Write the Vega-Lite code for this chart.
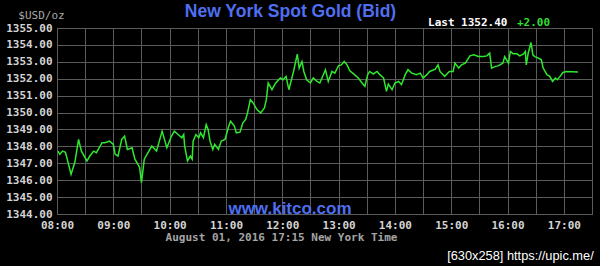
{
  "$schema": "https://vega.github.io/schema/vega-lite/v6.json",
  "width": 535,
  "height": 186,
  "autosize": "none",
  "padding": {"left": 57, "top": 28, "right": 8, "bottom": 52},
  "background": "#000000",
  "config": {
    "view": {"stroke": "#7a7a7a", "strokeWidth": 1, "fill": "#000000"},
    "axis": {
      "gridColor": "#5a5a5a",
      "ticks": false,
      "domain": false,
      "labelFont": "DejaVu Sans Mono",
      "labelFontWeight": "bold",
      "labelFontSize": 11,
      "labelColor": "#d4d4d4",
      "labelPadding": 5,
      "titleFont": "DejaVu Sans Mono",
      "titleFontSize": 11
    }
  },
  "title": {
    "text": "New York Spot Gold (Bid)",
    "anchor": "middle",
    "dx": -34,
    "dy": 16,
    "offset": 5,
    "font": "Liberation Sans",
    "fontWeight": "bold",
    "fontSize": 17.5,
    "color": "#4f6ff0"
  },
  "layer": [
    {
      "data": {
        "values": [
          {"hour": 8.017, "price": 1347.72},
          {"hour": 8.05, "price": 1347.53},
          {"hour": 8.1, "price": 1347.72},
          {"hour": 8.15, "price": 1347.65},
          {"hour": 8.25, "price": 1346.35},
          {"hour": 8.317, "price": 1347.06},
          {"hour": 8.383, "price": 1348.41},
          {"hour": 8.433, "price": 1347.72},
          {"hour": 8.533, "price": 1347.14},
          {"hour": 8.583, "price": 1347.43},
          {"hour": 8.65, "price": 1347.72},
          {"hour": 8.7, "price": 1347.63},
          {"hour": 8.8, "price": 1348.22},
          {"hour": 8.85, "price": 1348.22},
          {"hour": 8.933, "price": 1348.31},
          {"hour": 9.0, "price": 1348.12},
          {"hour": 9.033, "price": 1347.53},
          {"hour": 9.083, "price": 1347.43},
          {"hour": 9.15, "price": 1348.41},
          {"hour": 9.2, "price": 1348.61},
          {"hour": 9.25, "price": 1347.82},
          {"hour": 9.333, "price": 1347.92},
          {"hour": 9.383, "price": 1347.24},
          {"hour": 9.467, "price": 1346.75},
          {"hour": 9.5, "price": 1345.86},
          {"hour": 9.55, "price": 1347.24},
          {"hour": 9.617, "price": 1347.63},
          {"hour": 9.683, "price": 1348.02},
          {"hour": 9.767, "price": 1347.72},
          {"hour": 9.867, "price": 1348.90},
          {"hour": 9.95, "price": 1347.92},
          {"hour": 10.033, "price": 1348.61},
          {"hour": 10.083, "price": 1348.90},
          {"hour": 10.15, "price": 1348.70},
          {"hour": 10.217, "price": 1348.51},
          {"hour": 10.25, "price": 1348.70},
          {"hour": 10.267, "price": 1348.02},
          {"hour": 10.317, "price": 1347.14},
          {"hour": 10.367, "price": 1347.43},
          {"hour": 10.4, "price": 1347.24},
          {"hour": 10.417, "price": 1348.31},
          {"hour": 10.467, "price": 1348.70},
          {"hour": 10.517, "price": 1348.51},
          {"hour": 10.55, "price": 1348.80},
          {"hour": 10.6, "price": 1348.51},
          {"hour": 10.65, "price": 1349.29},
          {"hour": 10.683, "price": 1349.00},
          {"hour": 10.717, "price": 1348.31},
          {"hour": 10.767, "price": 1347.82},
          {"hour": 10.8, "price": 1348.12},
          {"hour": 10.867, "price": 1347.82},
          {"hour": 10.917, "price": 1348.31},
          {"hour": 10.983, "price": 1348.41},
          {"hour": 11.05, "price": 1349.20},
          {"hour": 11.083, "price": 1349.49},
          {"hour": 11.15, "price": 1349.20},
          {"hour": 11.183, "price": 1348.80},
          {"hour": 11.25, "price": 1348.84},
          {"hour": 11.3, "price": 1349.39},
          {"hour": 11.35, "price": 1349.59},
          {"hour": 11.383, "price": 1349.98},
          {"hour": 11.433, "price": 1350.76},
          {"hour": 11.483, "price": 1350.57},
          {"hour": 11.55, "price": 1350.18},
          {"hour": 11.617, "price": 1349.98},
          {"hour": 11.683, "price": 1350.27},
          {"hour": 11.717, "price": 1350.76},
          {"hour": 11.75, "price": 1351.75},
          {"hour": 11.817, "price": 1351.35},
          {"hour": 11.883, "price": 1351.75},
          {"hour": 11.967, "price": 1352.04},
          {"hour": 12.017, "price": 1351.94},
          {"hour": 12.067, "price": 1352.14},
          {"hour": 12.117, "price": 1351.35},
          {"hour": 12.2, "price": 1352.43},
          {"hour": 12.267, "price": 1353.45},
          {"hour": 12.3, "price": 1352.63},
          {"hour": 12.35, "price": 1353.02},
          {"hour": 12.383, "price": 1352.43},
          {"hour": 12.433, "price": 1351.94},
          {"hour": 12.5, "price": 1351.75},
          {"hour": 12.55, "price": 1352.04},
          {"hour": 12.617, "price": 1351.84},
          {"hour": 12.667, "price": 1351.75},
          {"hour": 12.767, "price": 1352.53},
          {"hour": 12.817, "price": 1351.84},
          {"hour": 12.883, "price": 1352.43},
          {"hour": 12.933, "price": 1352.33},
          {"hour": 13.0, "price": 1352.78},
          {"hour": 13.05, "price": 1352.82},
          {"hour": 13.1, "price": 1353.02},
          {"hour": 13.15, "price": 1352.82},
          {"hour": 13.2, "price": 1352.47},
          {"hour": 13.283, "price": 1352.24},
          {"hour": 13.35, "price": 1352.04},
          {"hour": 13.417, "price": 1351.75},
          {"hour": 13.467, "price": 1351.55},
          {"hour": 13.517, "price": 1352.24},
          {"hour": 13.55, "price": 1352.43},
          {"hour": 13.617, "price": 1352.28},
          {"hour": 13.683, "price": 1352.43},
          {"hour": 13.733, "price": 1352.24},
          {"hour": 13.8, "price": 1352.04},
          {"hour": 13.85, "price": 1351.25},
          {"hour": 13.883, "price": 1351.69},
          {"hour": 13.95, "price": 1351.35},
          {"hour": 14.0, "price": 1351.75},
          {"hour": 14.067, "price": 1351.84},
          {"hour": 14.117, "price": 1351.65},
          {"hour": 14.183, "price": 1352.24},
          {"hour": 14.233, "price": 1352.53},
          {"hour": 14.3, "price": 1352.33},
          {"hour": 14.383, "price": 1352.24},
          {"hour": 14.45, "price": 1352.33},
          {"hour": 14.5, "price": 1352.04},
          {"hour": 14.567, "price": 1352.24},
          {"hour": 14.617, "price": 1352.43},
          {"hour": 14.717, "price": 1352.57},
          {"hour": 14.767, "price": 1352.82},
          {"hour": 14.8, "price": 1352.43},
          {"hour": 14.883, "price": 1352.14},
          {"hour": 14.967, "price": 1352.43},
          {"hour": 15.033, "price": 1352.43},
          {"hour": 15.067, "price": 1352.92},
          {"hour": 15.133, "price": 1352.63},
          {"hour": 15.183, "price": 1352.82},
          {"hour": 15.25, "price": 1352.92},
          {"hour": 15.333, "price": 1353.35},
          {"hour": 15.4, "price": 1353.41},
          {"hour": 15.483, "price": 1353.31},
          {"hour": 15.567, "price": 1353.31},
          {"hour": 15.633, "price": 1353.35},
          {"hour": 15.683, "price": 1353.51},
          {"hour": 15.717, "price": 1352.63},
          {"hour": 15.783, "price": 1352.73},
          {"hour": 15.833, "price": 1352.76},
          {"hour": 15.917, "price": 1352.92},
          {"hour": 15.95, "price": 1353.31},
          {"hour": 16.017, "price": 1352.92},
          {"hour": 16.05, "price": 1353.61},
          {"hour": 16.1, "price": 1353.47},
          {"hour": 16.167, "price": 1353.47},
          {"hour": 16.217, "price": 1353.35},
          {"hour": 16.283, "price": 1353.47},
          {"hour": 16.317, "price": 1353.61},
          {"hour": 16.333, "price": 1352.82},
          {"hour": 16.367, "price": 1353.51},
          {"hour": 16.417, "price": 1354.14},
          {"hour": 16.45, "price": 1353.41},
          {"hour": 16.483, "price": 1353.31},
          {"hour": 16.55, "price": 1353.22},
          {"hour": 16.6, "price": 1353.12},
          {"hour": 16.633, "price": 1352.63},
          {"hour": 16.7, "price": 1352.24},
          {"hour": 16.75, "price": 1352.14},
          {"hour": 16.8, "price": 1351.84},
          {"hour": 16.85, "price": 1352.04},
          {"hour": 16.883, "price": 1351.94},
          {"hour": 16.933, "price": 1352.14},
          {"hour": 16.983, "price": 1352.37},
          {"hour": 17.05, "price": 1352.43},
          {"hour": 17.25, "price": 1352.40}
        ]
      },
      "mark": {"type": "line", "color": "#2ee82e", "strokeWidth": 1.5, "clip": true},
      "encoding": {
        "x": {
          "field": "hour",
          "type": "quantitative",
          "scale": {"domain": [8, 17.5], "nice": false, "zero": false},
          "axis": {
            "values": [8, 8.5, 9, 9.5, 10, 10.5, 11, 11.5, 12, 12.5, 13, 13.5, 14, 14.5, 15, 15.5, 16, 16.5, 17, 17.5],
            "labelExpr": "datum.value % 1 == 0 ? (datum.value < 10 ? '0' : '') + datum.value + ':00' : ''",
            "labelFlush": false,
            "labelOverlap": false,
            "title": "August 01, 2016 17:15 New York Time",
            "titleColor": "#a4a4a4",
            "titleFontWeight": "bold",
            "titleX": 224,
            "titleY": 23,
            "titleAlign": "center",
            "titleBaseline": "middle"
          }
        },
        "y": {
          "field": "price",
          "type": "quantitative",
          "scale": {"domain": [1344, 1355], "nice": false, "zero": false},
          "axis": {
            "values": [1344, 1345, 1346, 1347, 1348, 1349, 1350, 1351, 1352, 1353, 1354, 1355],
            "format": ".2f",
            "labelOverlap": false,
            "title": "$USD/oz",
            "titleColor": "#a8a8a8",
            "titleFontWeight": "normal",
            "titleAngle": 0,
            "titleAlign": "center",
            "titleBaseline": "middle",
            "titleX": -16,
            "titleY": -13
          }
        }
      }
    },
    {
      "data": {"values": [{"label": "Last 1352.40"}]},
      "mark": {"type": "text", "align": "left", "baseline": "middle", "font": "DejaVu Sans Mono", "fontWeight": "bold", "fontSize": 11, "color": "#ffffff"},
      "encoding": {
        "x": {"datum": 14.588, "type": "quantitative",
          "axis": {
            "values": [8, 8.5, 9, 9.5, 10, 10.5, 11, 11.5, 12, 12.5, 13, 13.5, 14, 14.5, 15, 15.5, 16, 16.5, 17, 17.5],
            "labelExpr": "datum.value % 1 == 0 ? (datum.value < 10 ? '0' : '') + datum.value + ':00' : ''",
            "labelFlush": false, "labelOverlap": false,
            "title": "August 01, 2016 17:15 New York Time",
            "titleColor": "#a4a4a4", "titleFontWeight": "bold", "titleX": 224, "titleY": 23, "titleAlign": "center", "titleBaseline": "middle"
          }},
        "y": {"datum": 1355.29, "type": "quantitative",
          "axis": {
            "values": [1344, 1345, 1346, 1347, 1348, 1349, 1350, 1351, 1352, 1353, 1354, 1355],
            "format": ".2f", "labelOverlap": false,
            "title": "$USD/oz",
            "titleColor": "#a8a8a8", "titleFontWeight": "normal", "titleAngle": 0, "titleAlign": "center", "titleBaseline": "middle", "titleX": -16, "titleY": -13
          }},
        "text": {"field": "label"}
      }
    },
    {
      "data": {"values": [{"label": "+2.00"}]},
      "mark": {"type": "text", "align": "left", "baseline": "middle", "font": "DejaVu Sans Mono", "fontWeight": "bold", "fontSize": 11, "color": "#33dd33"},
      "encoding": {
        "x": {"datum": 16.168, "type": "quantitative",
          "axis": {
            "values": [8, 8.5, 9, 9.5, 10, 10.5, 11, 11.5, 12, 12.5, 13, 13.5, 14, 14.5, 15, 15.5, 16, 16.5, 17, 17.5],
            "labelExpr": "datum.value % 1 == 0 ? (datum.value < 10 ? '0' : '') + datum.value + ':00' : ''",
            "labelFlush": false, "labelOverlap": false,
            "title": "August 01, 2016 17:15 New York Time",
            "titleColor": "#a4a4a4", "titleFontWeight": "bold", "titleX": 224, "titleY": 23, "titleAlign": "center", "titleBaseline": "middle"
          }},
        "y": {"datum": 1355.29, "type": "quantitative",
          "axis": {
            "values": [1344, 1345, 1346, 1347, 1348, 1349, 1350, 1351, 1352, 1353, 1354, 1355],
            "format": ".2f", "labelOverlap": false,
            "title": "$USD/oz",
            "titleColor": "#a8a8a8", "titleFontWeight": "normal", "titleAngle": 0, "titleAlign": "center", "titleBaseline": "middle", "titleX": -16, "titleY": -13
          }},
        "text": {"field": "label"}
      }
    },
    {
      "data": {"values": [{"label": "www.kitco.com"}]},
      "mark": {"type": "text", "align": "center", "baseline": "middle", "font": "Liberation Sans", "fontWeight": "bold", "fontSize": 17, "color": "#4f6ff0"},
      "encoding": {
        "x": {"datum": 12.137, "type": "quantitative",
          "axis": {
            "values": [8, 8.5, 9, 9.5, 10, 10.5, 11, 11.5, 12, 12.5, 13, 13.5, 14, 14.5, 15, 15.5, 16, 16.5, 17, 17.5],
            "labelExpr": "datum.value % 1 == 0 ? (datum.value < 10 ? '0' : '') + datum.value + ':00' : ''",
            "labelFlush": false, "labelOverlap": false,
            "title": "August 01, 2016 17:15 New York Time",
            "titleColor": "#a4a4a4", "titleFontWeight": "bold", "titleX": 224, "titleY": 23, "titleAlign": "center", "titleBaseline": "middle"
          }},
        "y": {"datum": 1344.29, "type": "quantitative",
          "axis": {
            "values": [1344, 1345, 1346, 1347, 1348, 1349, 1350, 1351, 1352, 1353, 1354, 1355],
            "format": ".2f", "labelOverlap": false,
            "title": "$USD/oz",
            "titleColor": "#a8a8a8", "titleFontWeight": "normal", "titleAngle": 0, "titleAlign": "center", "titleBaseline": "middle", "titleX": -16, "titleY": -13
          }},
        "text": {"field": "label"}
      }
    },
    {
      "data": {"values": [{"label": "[630x258] https://upic.me/"}]},
      "mark": {"type": "text", "align": "right", "baseline": "middle", "font": "Liberation Sans", "fontSize": 12.8, "color": "#ffffff"},
      "encoding": {
        "x": {"datum": 17.53, "type": "quantitative",
          "axis": {
            "values": [8, 8.5, 9, 9.5, 10, 10.5, 11, 11.5, 12, 12.5, 13, 13.5, 14, 14.5, 15, 15.5, 16, 16.5, 17, 17.5],
            "labelExpr": "datum.value % 1 == 0 ? (datum.value < 10 ? '0' : '') + datum.value + ':00' : ''",
            "labelFlush": false, "labelOverlap": false,
            "title": "August 01, 2016 17:15 New York Time",
            "titleColor": "#a4a4a4", "titleFontWeight": "bold", "titleX": 224, "titleY": 23, "titleAlign": "center", "titleBaseline": "middle"
          }},
        "y": {"datum": 1341.53, "type": "quantitative",
          "axis": {
            "values": [1344, 1345, 1346, 1347, 1348, 1349, 1350, 1351, 1352, 1353, 1354, 1355],
            "format": ".2f", "labelOverlap": false,
            "title": "$USD/oz",
            "titleColor": "#a8a8a8", "titleFontWeight": "normal", "titleAngle": 0, "titleAlign": "center", "titleBaseline": "middle", "titleX": -16, "titleY": -13
          }},
        "text": {"field": "label"}
      }
    }
  ]
}
